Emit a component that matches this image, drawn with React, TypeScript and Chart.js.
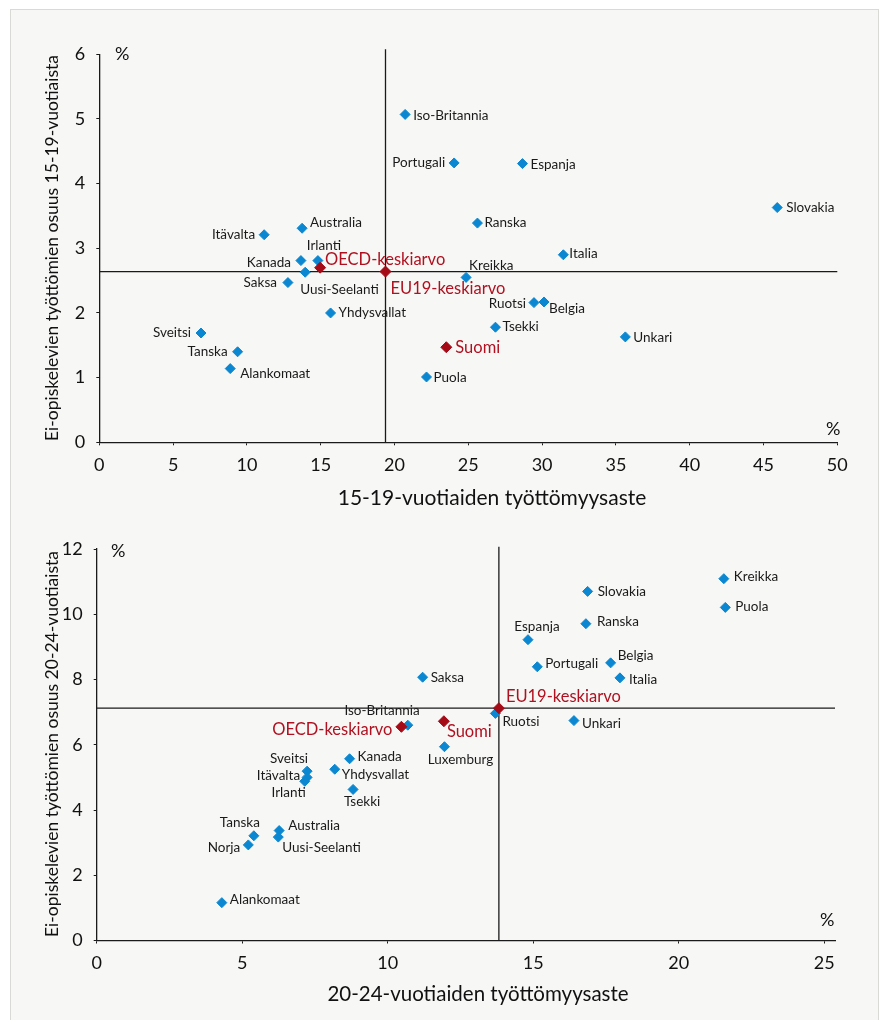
import React, { useEffect, useRef } from 'react';
import { Chart, registerables } from 'chart.js';
Chart.register(...registerables);

// ---------- Chart 1: 15-19-vuotiaat ----------
const countries1 = ['Iso-Britannia', 'Portugali', 'Espanja', 'Slovakia', 'Ranska', 'Australia', 'Itävalta', 'Italia', 'Kanada', 'Irlanti', 'Uusi-Seelanti', 'Kreikka', 'Saksa', 'Ruotsi', 'Belgia', 'Yhdysvallat', 'Tsekki', 'Sveitsi', 'Unkari', 'Tanska', 'Alankomaat', 'Puola'];
const unemp1 = [20.72, 24.04, 28.67, 45.93, 25.62, 13.74, 11.17, 31.44, 13.66, 14.81, 13.95, 24.85, 12.78, 29.45, 30.13, 15.67, 26.84, 6.89, 35.64, 9.37, 8.87, 22.17];
const share1 = [5.07, 4.32, 4.31, 3.63, 3.39, 3.31, 3.21, 2.90, 2.81, 2.81, 2.63, 2.55, 2.47, 2.16, 2.17, 2.00, 1.78, 1.69, 1.63, 1.40, 1.14, 1.01];
const avgNames1 = ['OECD-keskiarvo', 'EU19-keskiarvo', 'Suomi'];
const avgUnemp1 = [14.96, 19.39, 23.51];
const avgShare1 = [2.70, 2.64, 1.47];
const xTicks1 = { min: 0, max: 50, step: 5 };
const yTicks1 = { min: 0, max: 6, step: 1 };
const refTop1 = 6.08;

// ---------- Chart 2: 20-24-vuotiaat ----------
const countries2 = ['Kreikka', 'Slovakia', 'Puola', 'Ranska', 'Espanja', 'Portugali', 'Belgia', 'Italia', 'Saksa', 'Ruotsi', 'Unkari', 'Luxemburg', 'Iso-Britannia', 'Kanada', 'Sveitsi', 'Yhdysvallat', 'Itävalta', 'Irlanti', 'Tsekki', 'Australia', 'Uusi-Seelanti', 'Tanska', 'Norja', 'Alankomaat'];
const unemp2 = [21.55, 16.87, 21.60, 16.81, 14.82, 15.14, 17.66, 17.98, 11.20, 13.70, 16.40, 11.95, 10.69, 8.69, 7.23, 8.18, 7.23, 7.15, 8.81, 6.27, 6.24, 5.40, 5.21, 4.30];
const share2 = [11.09, 10.70, 10.21, 9.71, 9.22, 8.39, 8.51, 8.05, 8.07, 6.96, 6.74, 5.94, 6.60, 5.57, 5.19, 5.25, 5.00, 4.88, 4.63, 3.37, 3.17, 3.21, 2.93, 1.16];
const avgNames2 = ['OECD-keskiarvo', 'EU19-keskiarvo', 'Suomi'];
const avgUnemp2 = [10.47, 13.82, 11.93];
const avgShare2 = [6.55, 7.12, 6.72];
const xTicks2 = { min: 0, max: 25.37, step: 5 };
const yTicks2 = { min: 0, max: 12, step: 2 };
const refTop2 = 12.07;

// ---------- styles ----------
const FONT = 'Lato, "Open Sans", sans-serif';
const BLUE = '#0a87d0';
const RED = '#a50a17';
const RED_TEXT = '#b01120';

type Place = [number, number, 'l' | 'r' | 'c'];
const place1: Record<string, Place> = {
  'Iso-Britannia': [8, 1, 'l'], 'Portugali': [-9, 0, 'r'], 'Espanja': [8, 1, 'l'], 'Slovakia': [9, 0, 'l'],
  'Ranska': [7, 0, 'l'], 'Australia': [8, -6, 'l'], 'Itävalta': [-9, 0, 'r'], 'Italia': [6, -1, 'l'],
  'Kanada': [-10, 2, 'r'], 'Irlanti': [6, -15, 'c'], 'Uusi-Seelanti': [-5, 17, 'l'], 'Kreikka': [3, -12, 'l'],
  'Saksa': [-11, 0, 'r'], 'Ruotsi': [-8, 1, 'r'], 'Belgia': [5, 7, 'l'], 'Yhdysvallat': [8, 0, 'l'],
  'Tsekki': [7, -1, 'l'], 'Sveitsi': [-10, 0, 'r'], 'Unkari': [8, 1, 'l'], 'Tanska': [-10, 0, 'r'],
  'Alankomaat': [10, 5, 'l'], 'Puola': [7, 1, 'l'],
  'OECD-keskiarvo': [5, -8, 'l'], 'EU19-keskiarvo': [5, 17, 'l'], 'Suomi': [9, 0, 'l'],
};
const place2: Record<string, Place> = {
  'Kreikka': [10, -2, 'l'], 'Slovakia': [10, 0, 'l'], 'Puola': [10, -1, 'l'], 'Ranska': [11, -2, 'l'],
  'Espanja': [9, -13, 'c'], 'Portugali': [8, -3, 'l'], 'Belgia': [7, -7, 'l'], 'Italia': [9, 2, 'l'],
  'Saksa': [8, 0, 'l'], 'Ruotsi': [7, 8, 'l'], 'Unkari': [8, 3, 'l'], 'Luxemburg': [16, 13, 'c'],
  'Iso-Britannia': [12, -15, 'r'], 'Kanada': [8, -2, 'l'], 'Sveitsi': [1, -13, 'r'], 'Yhdysvallat': [7, 5, 'l'],
  'Itävalta': [-7, -2, 'r'], 'Irlanti': [1, 11, 'r'], 'Tsekki': [9, 12, 'c'], 'Australia': [9, -5, 'l'],
  'Uusi-Seelanti': [4, 11, 'l'], 'Tanska': [6, -13, 'r'], 'Norja': [-8, 3, 'r'], 'Alankomaat': [8, -3, 'l'],
  'OECD-keskiarvo': [-9, 3, 'r'], 'EU19-keskiarvo': [7, -12, 'l'], 'Suomi': [3, 10, 'l'],
};

const labelPlugin = {
  id: 'pointLabels',
  afterDatasetsDraw(chart: any, _args: any, opts: any) {
    const ctx = chart.ctx;
    chart.data.datasets.forEach((ds: any, i: number) => {
      if (!ds.names) return;
      const meta = chart.getDatasetMeta(i);
      meta.data.forEach((el: any, j: number) => {
        const name = ds.names[j];
        const p: Place = opts.placement[name] || [8, 0, 'l'];
        ctx.save();
        ctx.font = ds.labelFont;
        ctx.fillStyle = ds.labelColor;
        ctx.textAlign = p[2] === 'l' ? 'left' : p[2] === 'r' ? 'right' : 'center';
        ctx.textBaseline = 'middle';
        ctx.fillText(name, el.x + p[0], el.y + p[1]);
        ctx.restore();
      });
    });
  },
};

type Area = { left: number; top: number; right: number; bottom: number };

function buildConfig(
  names: string[], xs: number[], ys: number[],
  aNames: string[], aXs: number[], aYs: number[],
  xT: { min: number; max: number; step: number }, yT: { min: number; max: number; step: number },
  refTop: number, placement: Record<string, Place>, area: Area, width: number, height: number,
) {
  const eu = aNames.indexOf('EU19-keskiarvo');
  const refX = aXs[eu];
  const refY = aYs[eu];
  const lineStyle = { showLine: true, pointRadius: 0, borderColor: '#1a1a1a', borderWidth: 1.3, clip: false as any, order: 3 };
  return {
    type: 'scatter' as const,
    data: {
      datasets: [
        {
          data: aXs.map((x, i) => ({ x, y: aYs[i] })), names: aNames,
          labelFont: `16.5px ${FONT}`, labelColor: RED_TEXT,
          pointStyle: 'rectRot', pointRadius: 5.5, backgroundColor: RED, borderColor: RED, borderWidth: 1, order: 0,
        },
        {
          data: xs.map((x, i) => ({ x, y: ys[i] })), names,
          labelFont: `13.5px ${FONT}`, labelColor: '#1a1a1a',
          pointStyle: 'rectRot', pointRadius: 5, backgroundColor: BLUE, borderColor: BLUE, borderWidth: 1, order: 1,
        },
        { ...lineStyle, data: [{ x: refX, y: yT.min }, { x: refX, y: refTop }] },
        { ...lineStyle, data: [{ x: xT.min, y: refY }, { x: xT.max, y: refY }] },
      ],
    },
    options: {
      animation: false as const,
      responsive: false,
      devicePixelRatio: 1,
      layout: { padding: { left: 0, top: area.top, right: width - area.right, bottom: 0 } },
      plugins: {
        legend: { display: false },
        tooltip: { enabled: false },
        pointLabels: { placement },
      },
      scales: {
        x: {
          type: 'linear' as const, min: xT.min, max: xT.max,
          afterFit: (s: any) => { s.height = height - area.bottom; },
          border: { display: true, color: '#1a1a1a', width: 1.3 },
          grid: { display: true, drawOnChartArea: false, drawTicks: true, tickLength: 3, color: '#1a1a1a', lineWidth: 1 },
          ticks: { stepSize: xT.step, includeBounds: false, padding: 9, color: '#111', font: { family: FONT, size: 18 } },
        },
        y: {
          type: 'linear' as const, min: yT.min, max: yT.max,
          afterFit: (s: any) => { s.width = area.left; },
          border: { display: true, color: '#1a1a1a', width: 1.3 },
          grid: { display: true, drawOnChartArea: false, drawTicks: true, tickLength: 3, color: '#1a1a1a', lineWidth: 1 },
          ticks: { stepSize: yT.step, includeBounds: false, padding: 11, color: '#111', font: { family: FONT, size: 18 } },
        },
      },
    },
    plugins: [labelPlugin],
  };
}

function ScatterPanel(props: { cfg: () => any; top: number; height: number }) {
  const ref = useRef<HTMLCanvasElement | null>(null);
  useEffect(() => {
    if (!ref.current) return;
    const chart = new Chart(ref.current, props.cfg());
    return () => chart.destroy();
  }, []);
  return (
    <canvas ref={ref} width={882} height={props.height}
      style={{ position: 'absolute', left: 0, top: props.top, width: 882, height: props.height, display: 'block' }} />
  );
}

const txt: React.CSSProperties = { position: 'absolute', fontFamily: FONT, color: '#111', whiteSpace: 'nowrap', lineHeight: 1 };

export default function App() {
  const H1 = 515;
  const H2 = 505;
  const area1: Area = { left: 99.3, top: 54.3, right: 837.3, bottom: 442.3 };
  const area2: Area = { left: 96.7, top: 549 - H1, right: 835, bottom: 940.5 - H1 };
  return (
    <div style={{ position: 'absolute', left: 0, top: 0, width: 882, height: 1020, background: '#fff', overflow: 'hidden' }}>
      <div style={{ position: 'absolute', left: 10, top: 9, width: 867, height: 1030, border: '1px solid #d9d9d5', background: '#f7f7f5' }} />
      <ScatterPanel top={0} height={H1}
        cfg={() => buildConfig(countries1, unemp1, share1, avgNames1, avgUnemp1, avgShare1, xTicks1, yTicks1, refTop1, place1, area1, 882, H1)} />
      <ScatterPanel top={H1} height={H2}
        cfg={() => buildConfig(countries2, unemp2, share2, avgNames2, avgUnemp2, avgShare2, xTicks2, yTicks2, refTop2, place2, area2, 882, H2)} />
      {/* chart 1 texts */}
      <div style={{ ...txt, left: 115, top: 44, fontSize: 18 }}>%</div>
      <div style={{ ...txt, left: 826, top: 419, fontSize: 18 }}>%</div>
      <div style={{ ...txt, left: 492, top: 496, fontSize: 21, transform: 'translate(-50%, -50%)' }}>15-19-vuotiaiden työttömyysaste</div>
      <div style={{ ...txt, left: 52, top: 248, fontSize: 17.5, transform: 'translate(-50%, -50%) rotate(-90deg)' }}>Ei-opiskelevien työttömien osuus 15-19-vuotiaista</div>
      {/* chart 2 texts */}
      <div style={{ ...txt, left: 111, top: 541, fontSize: 18 }}>%</div>
      <div style={{ ...txt, left: 820, top: 910, fontSize: 18 }}>%</div>
      <div style={{ ...txt, left: 478, top: 993, fontSize: 20.5, transform: 'translate(-50%, -50%)' }}>20-24-vuotiaiden työttömyysaste</div>
      <div style={{ ...txt, left: 52, top: 744, fontSize: 17.5, transform: 'translate(-50%, -50%) rotate(-90deg)' }}>Ei-opiskelevien työttömien osuus 20-24-vuotiaista</div>
    </div>
  );
}
